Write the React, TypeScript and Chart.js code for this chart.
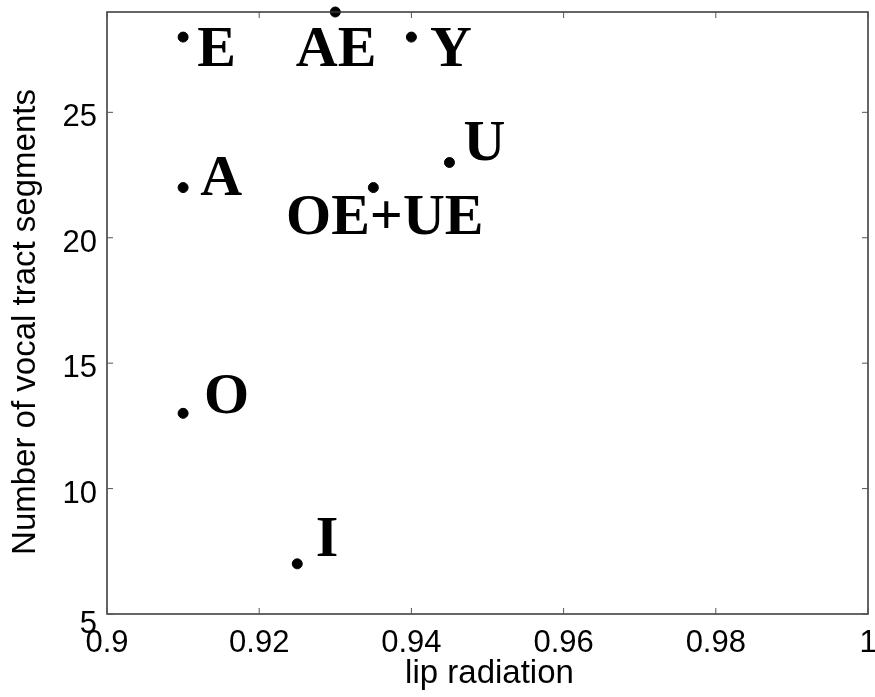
import React, { useEffect, useRef } from "react";
import { Chart, registerables } from "chart.js";

Chart.register(...registerables);

// Data
const vowels = ["E", "AE", "Y", "U", "A", "OE+UE", "O", "I"];
const lipRadiation = [0.91, 0.93, 0.94, 0.945, 0.91, 0.935, 0.91, 0.925];
const segments = [28, 29, 28, 23, 22, 22, 13, 7];
// label anchor (centre x, baseline y) in data units
const labelX = [0.9144, 0.9301, 0.9452, 0.9496, 0.915, 0.9365, 0.9157, 0.9289];
const labelY = [26.85, 26.85, 26.85, 23.1, 21.71, 20.15, 13.01, 7.31];

const xTicks = [0.9, 0.92, 0.94, 0.96, 0.98, 1.0];
const xTickLabels = ["0.9", "0.92", "0.94", "0.96", "0.98", "1"];
const yTicks = [5, 10, 15, 20, 25];
const yTickLabels = ["5", "10", "15", "20", "25"];

const xTitle = "lip radiation";
const yTitle = "Number of vocal tract segments";

const SANS = '"Liberation Sans", Arial, sans-serif';
const SERIF = '"Liberation Serif", "Times New Roman", serif';

const framePlugin = {
  id: "matlabFrame",
  afterDatasetsDraw(chart: any) {
    const { ctx, chartArea: a, scales } = chart;
    const xs = scales.x;
    const ys = scales.y;
    ctx.save();
    // frame
    ctx.strokeStyle = "#333";
    ctx.lineWidth = 1.5;
    ctx.strokeRect(a.left, a.top, a.right - a.left, a.bottom - a.top);
    // inward ticks
    ctx.lineWidth = 1;
    ctx.strokeStyle = "#555";
    const tl = 6;
    xTicks.forEach((v) => {
      const px = xs.getPixelForValue(v);
      ctx.beginPath();
      ctx.moveTo(px, a.bottom);
      ctx.lineTo(px, a.bottom - tl);
      ctx.moveTo(px, a.top);
      ctx.lineTo(px, a.top + tl);
      ctx.stroke();
    });
    yTicks.forEach((v) => {
      const py = ys.getPixelForValue(v);
      ctx.beginPath();
      ctx.moveTo(a.left, py);
      ctx.lineTo(a.left + tl, py);
      ctx.moveTo(a.right, py);
      ctx.lineTo(a.right - tl, py);
      ctx.stroke();
    });
    // tick labels
    ctx.fillStyle = "#000";
    ctx.font = `31px ${SANS}`;
    ctx.textAlign = "center";
    ctx.textBaseline = "alphabetic";
    xTicks.forEach((v, i) => {
      ctx.fillText(xTickLabels[i], xs.getPixelForValue(v), a.bottom + 38);
    });
    ctx.textAlign = "right";
    yTicks.forEach((v, i) => {
      const extra = i === 0 ? 5 : 0;
      ctx.fillText(yTickLabels[i], a.left - 10, ys.getPixelForValue(v) + 14 + extra);
    });
    // axis titles
    ctx.font = `33px ${SANS}`;
    ctx.textAlign = "center";
    ctx.fillText(xTitle, (a.left + a.right) / 2 + 2, 683);
    ctx.save();
    ctx.translate(35, 322);
    ctx.rotate(-Math.PI / 2);
    ctx.fillText(yTitle, 0, 0);
    ctx.restore();
    // vowel labels
    ctx.font = `bold 58px ${SERIF}`;
    ctx.textAlign = "center";
    vowels.forEach((t, i) => {
      ctx.fillText(t, xs.getPixelForValue(labelX[i]), ys.getPixelForValue(labelY[i]));
    });
    ctx.restore();
  },
};

export default function App() {
  const ref = useRef<HTMLCanvasElement | null>(null);
  useEffect(() => {
    document.body.style.margin = "0";
    const canvas = ref.current;
    if (!canvas) return;
    const chart = new Chart(canvas, {
      type: "scatter",
      data: {
        datasets: [
          {
            data: lipRadiation.map((x, i) => ({ x, y: segments[i] })),
            backgroundColor: "#000",
            borderColor: "#000",
            pointRadius: 5,
            pointHoverRadius: 5,
            clip: false as any,
          },
        ],
      },
      options: {
        animation: false,
        responsive: false,
        maintainAspectRatio: false,
        layout: { padding: { left: 107, top: 12, right: 7, bottom: 83 } },
        plugins: { legend: { display: false }, tooltip: { enabled: false } },
        scales: {
          x: { type: "linear", min: 0.9, max: 1.0, display: false },
          y: { type: "linear", min: 5, max: 29, display: false },
        },
      },
      plugins: [framePlugin],
    });
    return () => chart.destroy();
  }, []);
  return (
    <div style={{ width: 875, height: 697, background: "#fff" }}>
      <canvas ref={ref} width={875} height={697} style={{ display: "block" }} />
    </div>
  );
}
